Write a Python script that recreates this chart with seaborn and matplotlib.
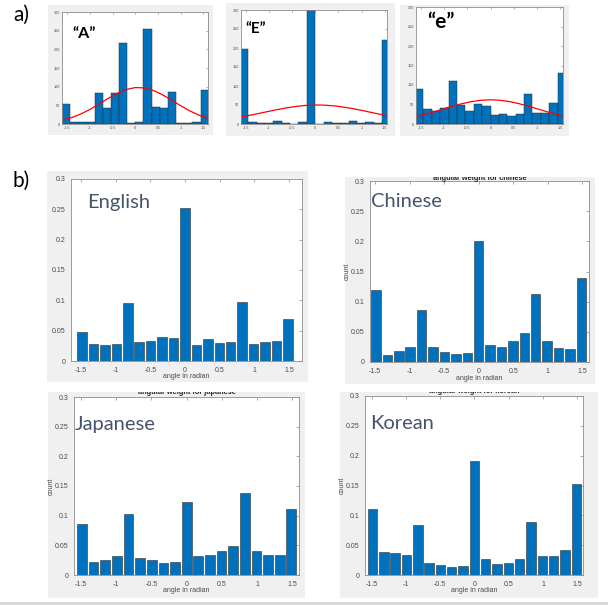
import matplotlib
matplotlib.use("Agg")
import matplotlib.pyplot as plt
from matplotlib.patches import Rectangle
import seaborn as sns

# a) angle histograms of single glyphs, with fitted normal curve
bin_edges = [-1.62, -1.44, -1.26, -1.08, -0.9, -0.72, -0.54, -0.36, -0.18, 0,
             0.18, 0.36, 0.54, 0.72, 0.9, 1.08, 1.26, 1.44, 1.62]
bin_mids = [-1.53, -1.35, -1.17, -0.99, -0.81, -0.63, -0.45, -0.27, -0.09,
            0.09, 0.27, 0.45, 0.63, 0.81, 0.99, 1.17, 1.35, 1.53]
count_A = [54, 6, 6, 5, 83, 43, 83, 217, 2, 5, 255, 45, 43, 85, 3.5, 3.5, 6, 91]
count_E = [197, 5, 2, 3, 8, 3, 1, 6, 300, 1, 6, 3, 3, 9, 3, 6, 3, 220]
count_e = [89, 38.6, 34, 40, 109, 48, 34, 52, 46, 24, 25, 20.6, 26, 76, 28, 28, 53, 130]

fit_x = [-1.6, -1.4, -1.2, -1.0, -0.8, -0.6, -0.4, -0.2, 0,
         0.2, 0.4, 0.6, 0.8, 1.0, 1.2, 1.4, 1.6]
fit_A = [10.5, 17.4, 26.9, 39.2, 53.4, 68.4, 82.1, 92.4, 97.6,
         96.7, 89.8, 78.2, 63.9, 49.0, 35.2, 23.8, 15.0]
fit_E = [18.4, 23.1, 28.2, 33.3, 38.3, 42.8, 46.4, 48.9, 50.0,
         49.6, 47.8, 44.7, 40.7, 35.9, 30.7, 25.6, 20.7]
fit_e = [19.0, 25.1, 31.9, 39.1, 46.2, 52.5, 57.6, 60.9, 62.0,
         60.9, 57.6, 52.5, 46.2, 39.1, 31.9, 25.1, 19.0]

# b) angular weight per script
angle_x = [-1.485, -1.32, -1.155, -0.99, -0.825, -0.66, -0.495, -0.33, -0.165, 0,
           0.165, 0.33, 0.495, 0.66, 0.825, 0.99, 1.155, 1.32, 1.485]
w_english = [0.048, 0.028, 0.026, 0.0275, 0.0956, 0.0313, 0.0335, 0.0396, 0.0379, 0.252,
             0.0258, 0.0368, 0.0291, 0.0319, 0.0978, 0.0286, 0.0319, 0.0324, 0.0687]
w_chinese = [0.120, 0.0122, 0.0178, 0.025, 0.0863, 0.0245, 0.0173, 0.0128, 0.015, 0.1998,
             0.0278, 0.0245, 0.035, 0.0484, 0.1124, 0.0345, 0.0239, 0.0217, 0.1386]
w_japanese = [0.086, 0.0219, 0.0253, 0.0315, 0.1034, 0.0292, 0.0253, 0.0197, 0.0219, 0.123,
              0.0326, 0.0343, 0.041, 0.0494, 0.1376, 0.0404, 0.0343, 0.0343, 0.111]
w_korean = [0.111, 0.039, 0.0369, 0.034, 0.0844, 0.0196, 0.0162, 0.0128, 0.0151, 0.1916,
            0.0274, 0.0179, 0.0207, 0.0274, 0.0883, 0.0313, 0.0313, 0.0419, 0.152]

xtick_vals = [-1.5, -1, -0.5, 0, 0.5, 1, 1.5]
xtick_text = ['-1.5', '-1', '-0.5', '0', '0.5', '1', '1.5']
ytick_a = [0, 50, 100, 150, 200, 250, 300]
ytick_a_text = ['0', '50', '100', '150', '200', '250', '300']
ytick_b = [0, 0.05, 0.1, 0.15, 0.2, 0.25, 0.3]
ytick_b_text = ['0', '0.05', '0.1', '0.15', '0.2', '0.25', '0.3']

W, H = 608, 605
BLUE = '#0072BD'
BAR_EDGE = '#303030'
BG = '#f0f0f0'
AX_GREY = '#8c8c8c'
LABEL_COL = '#44546A'
HAND = ['Lato', 'DejaVu Sans']

sns.set_style('white')
plt.rcParams['font.family'] = ['Liberation Sans', 'DejaVu Sans']
plt.rcParams['axes.unicode_minus'] = False

fig = plt.figure(figsize=(W / 100, H / 100), dpi=100)


def fig_xy(x, y):
    return x / W, 1 - y / H


def add_box(l, t, r, b, color=BG, z=-5):
    rect = Rectangle((l / W, 1 - b / H), (r - l) / W, (b - t) / H,
                     transform=fig.transFigure, facecolor=color,
                     edgecolor='none', zorder=z)
    fig.add_artist(rect)


def add_axes(l, t, r, b):
    return fig.add_axes([l / W, 1 - b / H, (r - l) / W, (b - t) / H])


def style_axes(ax, xlim, ylim, yticks, ylabels, fs, ticklen, pad):
    ax.set_facecolor('white')
    for s in ax.spines.values():
        s.set_visible(True)
        s.set_color(AX_GREY)
        s.set_linewidth(0.6)
    ax.set_xlim(*xlim)
    ax.set_ylim(*ylim)
    ax.set_xticks(xtick_vals)
    ax.set_xticklabels(xtick_text)
    ax.set_yticks(yticks)
    ax.set_yticklabels(ylabels)
    ax.tick_params(direction='in', top=True, right=True, length=ticklen,
                   width=0.5, color=AX_GREY, labelsize=fs,
                   labelcolor='#4a4a4a', pad=pad)
    ax.set_xlabel('')
    ax.set_ylabel('')


def cut_title(text, x, y, box):
    # title that was cropped away by the top edge of the grey panel
    fig.text(*fig_xy(x, y), text, ha='center', va='baseline',
             fontsize=5.3, fontweight='bold', color='#262626')
    l, t, r, b = box
    add_box(x - 60, t - 7.5, x + 60, t, color='white', z=10)


# ---- panel a ----
panel_a = [
    ('\u201cA\u201d', count_A, fit_A, (48, 5, 213, 135), (62, 12, 208, 124),
     (-1.618, 1.603), (72, 38.3), 11.5),
    ('\u201cE\u201d', count_E, fit_E, (226, 3, 395, 136), (241, 10, 387, 124),
     (-1.60, 1.55), (245, 33.3), 11),
    ('\u201ce\u201d', count_e, fit_e, (400, 5, 569, 136), (416, 7, 563, 124),
     (-1.60, 1.557), (427, 28.3), 15),
]
for name, counts, fit, box, axbox, xlim, txy, tfs in panel_a:
    add_box(*box)
    ax = add_axes(*axbox)
    sns.histplot(x=bin_mids, weights=counts, bins=bin_edges, color=BLUE,
                 alpha=1, edgecolor=BAR_EDGE, linewidth=0.35, ax=ax)
    sns.lineplot(x=fit_x, y=fit, color='red', linewidth=0.9, ax=ax)
    style_axes(ax, xlim, (0, 300), ytick_a, ytick_a_text, 2.7, 1.4, 1.5)
    fig.text(*fig_xy(*txy), name, fontsize=tfs, fontweight='bold',
             family=HAND, color='black', ha='left', va='baseline')

fig.text(*fig_xy(13, 20.5), 'a)', fontsize=15, family=HAND, color='black',
         ha='left', va='baseline')
fig.text(*fig_xy(13, 186.5), 'b)', fontsize=15, family=HAND, color='black',
         ha='left', va='baseline')

# ---- panel b ----
panel_b = [
    ('English', w_english, (47, 171, 308, 382), (71, 179, 302, 361),
     (-1.644, 1.688), (87, 208.3), False, None),
    ('Chinese', w_chinese, (345, 177, 595, 384), (370, 181, 589, 362),
     (-1.572, 1.596), (371, 206.7), True, ('angular weight for chinese', 179.8)),
    ('Japanese', w_japanese, (48, 392, 305, 598), (74, 397, 299, 575),
     (-1.599, 1.594), (74.5, 430), True, ('angular weight for japanese', 394.2)),
    ('Korean', w_korean, (340, 392, 598, 598), (365, 396, 583, 575),
     (-1.595, 1.583), (370, 429.3), True, ('angular weight for korean', 392.8)),
]
for name, weights, box, axbox, xlim, txy, show_count, title in panel_b:
    add_box(*box)
    ax = add_axes(*axbox)
    sns.barplot(x=angle_x, y=weights, native_scale=True, width=0.83,
                color=BLUE, saturation=1, edgecolor=BAR_EDGE, linewidth=0.4,
                ax=ax)
    style_axes(ax, xlim, (0, 0.3), ytick_b, ytick_b_text, 5, 2.2, 4)
    l, t, r, b = axbox
    ax.set_xlabel('angle in radian', fontsize=5, color='#4a4a4a')
    ax.xaxis.set_label_coords(0.5, -12.5 / (b - t))
    if show_count:
        ax.set_ylabel('count', fontsize=5, color='#4a4a4a')
        ax.yaxis.set_label_coords(-19 / (r - l), 0.5)
    if title is not None:
        cut_title(title[0], (l + r) / 2, title[1], box)
    fig.text(*fig_xy(*txy), name, fontsize=14.5, family=HAND,
             color=LABEL_COL, ha='left', va='baseline')

# grey strip along the bottom of the screenshot
add_box(0, 602, W, H, color='#d9d9d9')

fig.savefig('out.png', dpi=100, facecolor='white')
